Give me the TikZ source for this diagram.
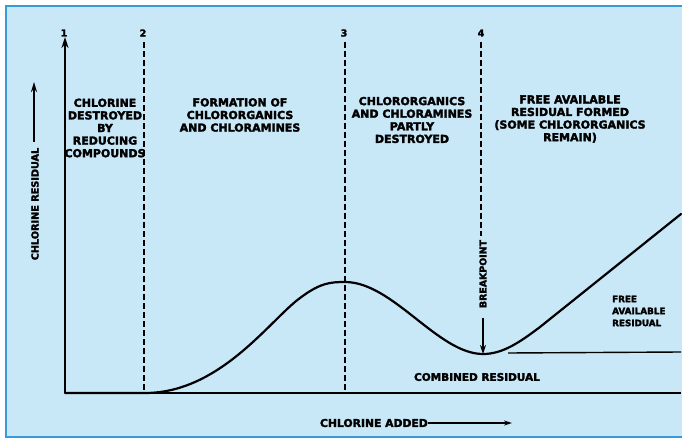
\documentclass[tikz,border=0pt]{standalone}
\usepackage{fontspec}
\setmainfont{DejaVu Sans}
\newfontfamily\heavy{DejaVu Sans Bold}[FakeBold=2.5]
\usetikzlibrary{arrows.meta}
\definecolor{bgblue}{HTML}{C8E8F8}
\definecolor{frameblue}{HTML}{3A9AD8}
\begin{document}
\begin{tikzpicture}[x=1pt,y=-1pt,
  blocktext/.style={font=\fontsize{11}{12.6}\selectfont\heavy, align=center, inner sep=0pt},
  smalltext/.style={font=\fontsize{8.8}{12}\selectfont\heavy, align=left, inner sep=0pt},
  numtext/.style={font=\fontsize{9.5}{10}\selectfont\heavy, inner sep=0pt},
  dashline/.style={line width=1.5pt, dash pattern=on 6pt off 3pt},
  curveline/.style={line width=2.2pt, line join=round, line cap=round},
  axisline/.style={line width=1.4pt},
  tipline/.style={line width=1.8pt, -{Stealth[length=9pt,width=6pt]}}]
\useasboundingbox (0,0) rectangle (682,438);
\fill[bgblue] (6,6) rectangle (682,438);
\draw[frameblue, line width=2pt] (682,6) -- (6,6) -- (6,437) -- (682,437);

% axes
\coordinate (O) at (65,393);
\coordinate (Ytop) at (65,37);
\coordinate (Xend) at (681,393);
\draw[line width=2.4pt, -{Stealth[length=11pt,width=7pt]}] (O) -- (Ytop);
\draw[axisline] (O) -- (Xend);

% numbers
\node[numtext] (n1) at (64,33) {1};
\node[numtext] (n2) at (143,33) {2};
\node[numtext] (n3) at (344,33) {3};
\node[numtext] (n4) at (481,33) {4};

% dashed boundaries
\coordinate (d2t) at (144,42);
\coordinate (d2b) at (144,393);
\coordinate (d3t) at (345,42);
\coordinate (d3b) at (345,393);
\coordinate (d4t) at (481,42);
\coordinate (d4b) at (481,236);
\draw[dashline] (d2t) -- (d2b);
\draw[dashline] (d3t) -- (d3b);
\draw[dashline] (d4t) -- (d4b);

% curve
\coordinate (c0) at (145,393);
\coordinate (c1) at (300,298);
\coordinate (peak) at (345,282);
\coordinate (bpmin) at (483,354);
\coordinate (c4) at (540,327);
\coordinate (cend) at (681,214);
\draw[curveline] (O) -- (c0) .. controls (220,393) and (270,320) .. (c1)
  .. controls (320,283) and (330,282) .. (peak)
  .. controls (393,282) and (438,354) .. (bpmin)
  .. controls (503,354) and (520,342) .. (c4) -- (cend);

% combined residual level
\coordinate (cl) at (508,353);
\coordinate (cr) at (681,352);
\draw[axisline] (cl) -- (cr);

% breakpoint
\node[font=\fontsize{9.4}{10}\selectfont\heavy, rotate=90, inner sep=0pt] (bp) at (483,274) {BREAKPOINT};
\coordinate (bpa) at (483,318);
\draw[tipline] (bpa) -- (bpmin);

% region texts
\node[blocktext] (t1) at (105,128) {CHLORINE\\DESTROYED\\BY\\REDUCING\\COMPOUNDS};
\node[blocktext] (t2) at (240,115) {FORMATION OF\\CHLORORGANICS\\AND CHLORAMINES};
\node[blocktext] (t3) at (412,120) {CHLORORGANICS\\AND CHLORAMINES\\PARTLY\\DESTROYED};
\node[blocktext] (t4) at (570,119) {FREE AVAILABLE\\RESIDUAL FORMED\\(SOME CHLORORGANICS\\REMAIN)};

\node[smalltext, anchor=west] (t5) at (612,311) {FREE\\AVAILABLE\\RESIDUAL};
\node[font=\fontsize{10.5}{12}\selectfont\heavy, inner sep=0pt] (t6) at (477,377) {COMBINED RESIDUAL};

% axis labels
\node[font=\fontsize{10.8}{12}\selectfont\heavy, inner sep=0pt, anchor=east] (xl) at (428,423) {CHLORINE ADDED};
\coordinate (xa) at (512,423);
\draw[line width=1.5pt, -{Stealth[length=8pt,width=5pt]}] (xl.east) -- (xa);

\node[font=\fontsize{9.7}{11}\selectfont\heavy, rotate=90, inner sep=0pt] (yl) at (35,204) {CHLORINE RESIDUAL};
\coordinate (ya0) at (34,142);
\coordinate (ya) at (34,82);
\draw[line width=2pt, -{Stealth[length=10pt,width=6pt]}] (ya0) -- (ya);
\end{tikzpicture}
\end{document}
